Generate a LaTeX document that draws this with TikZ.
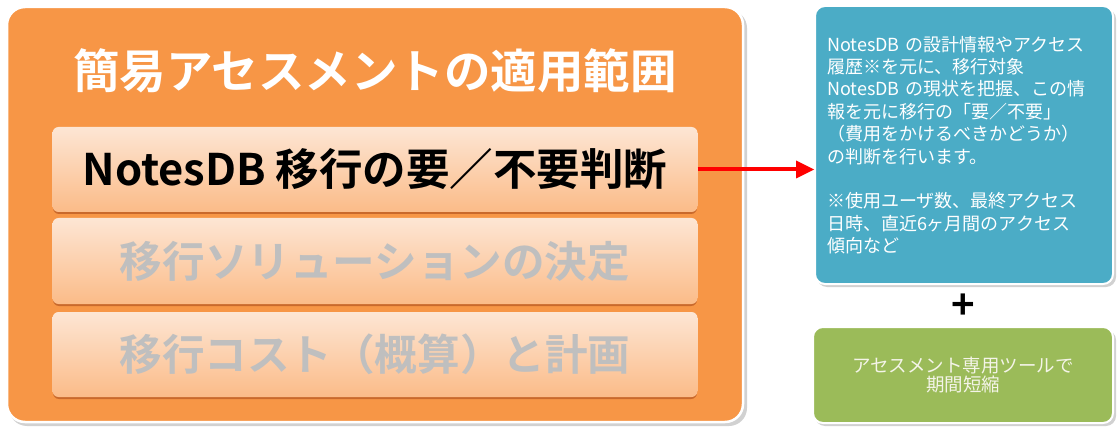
\documentclass[tikz,border=0pt]{standalone}
\usepackage{fontspec}
\setmainfont{Noto Sans CJK JP}
\newfontfamily\jpb{Noto Sans CJK JP Bold}
\usetikzlibrary{calc}
\definecolor{orangeM}{HTML}{F79646}
\definecolor{aquaM}{HTML}{4BACC6}
\definecolor{greenM}{HTML}{9BBB59}
\definecolor{boxTop}{HTML}{FDE6D4}
\definecolor{boxBot}{HTML}{FBBB88}
\definecolor{boxShadow}{HTML}{C9692C}
\definecolor{fadedText}{HTML}{BFBFBF}
\definecolor{greenText}{HTML}{F4F4E8}
\definecolor{arrowRed}{HTML}{FF0000}
\tikzset{
  panel/.style={rounded corners=18pt, fill=orangeM, draw=white, line width=2.5pt},
  stepbox/.style={rounded corners=6pt, top color=boxTop, bottom color=boxBot, draw=none,
    minimum width=645pt, minimum height=85pt, inner sep=0pt, font=\jpb\fontsize{42.6}{46}\selectfont},
  sidebox/.style={rounded corners=10pt, draw=white, line width=2pt, inner sep=0pt},
}
\begin{document}
\begin{tikzpicture}[x=1pt,y=-1pt]
\useasboundingbox (0,0) rectangle (1120,433);
% shadows
\fill[black!18, rounded corners=18pt] (9,10) rectangle (747,426);
\fill[black!18, rounded corners=10pt] (817,9) rectangle (1116,287);
\fill[black!18, rounded corners=10pt] (815,330) rectangle (1116,426);
% main panel
\node[panel, minimum width=736pt, minimum height=415pt, inner sep=0pt] (panel) at (375,214.5) {};
\node[font=\jpb\fontsize{46.5}{50}\selectfont, text=white] (title) at (375,71) {簡易アセスメントの適用範囲};
% inner box shadows
\fill[boxShadow, rounded corners=6pt] (53,129.5) rectangle (697,214);
\fill[boxShadow, rounded corners=6pt] (53,220.5) rectangle (697,306);
\fill[boxShadow, rounded corners=6pt] (53,314.5) rectangle (697,399);
\node[stepbox, text=black, font=\jpb\fontsize{43.5}{46}\selectfont] (s1) at (375,169.5) {NotesDB 移行の要／不要判断};
\node[stepbox, text=fadedText, minimum height=86pt] (s2) at (375,261) {移行ソリューションの決定};
\node[stepbox, text=fadedText] (s3) at (375,354.5) {移行コスト（概算）と計画};
% side boxes
\node[sidebox, fill=aquaM, minimum width=298pt, minimum height=278pt, text width=274pt, align=left,
  text=white, font=\fontsize{18}{22.4}\selectfont] (info) at (964,145) {NotesDB の設計情報やアクセス\\
履歴※を元に、移行対象\\
NotesDB の現状を把握、この情\\
報を元に移行の「要／不要」\\
（費用をかけるべきかどうか）\\
の判断を行います。\\[22.4pt]
※使用ユーザ数、最終アクセス\\
日時、直近6ヶ月間のアクセス\\
傾向など};
\node[font=\jpb\fontsize{40}{40}\selectfont] (plus) at (963,307) {+};
\node[sidebox, fill=greenM, minimum width=300pt, minimum height=96pt, align=center,
  text=greenText, font=\fontsize{18.5}{19.5}\selectfont] (tool) at (963,375) {アセスメント専用ツールで\\期間短縮};
% arrow
\draw[arrowRed, line width=4pt] (s1.east) -- ($(s1.east -| info.west)+(-18,0)$);
\fill[arrowRed] (s1.east -| info.west) -- ++(-18,-9) -- ++(0,18) -- cycle;
\end{tikzpicture}
\end{document}
